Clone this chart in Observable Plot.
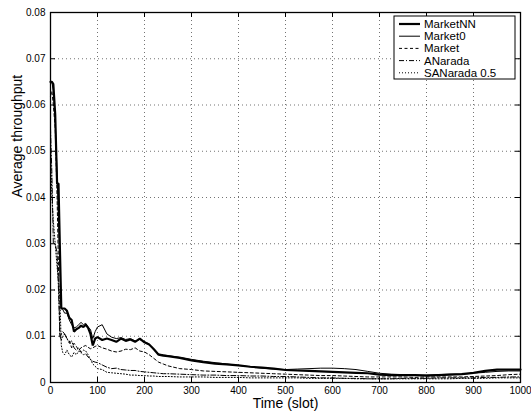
<!DOCTYPE html>
<html><head><meta charset="utf-8">
<script src="https://cdn.jsdelivr.net/npm/d3@7"></script>
<script src="https://cdn.jsdelivr.net/npm/@observablehq/plot@0.6"></script>
<style>body{margin:0;background:#fff;} svg{display:block;}</style>
</head><body><div id="chart"></div>
<script>
const time = [0,3,6,10,14,17,20,23,26,30,35,40,45,50,55,60,65,70,75,80,85,90,95,100,110,120,130,140,150,160,170,180,190,200,210,220,230,240,250,275,300,325,350,375,400,425,450,475,500,525,550,575,600,625,650,675,700,725,750,775,800,825,850,875,900,925,950,975,1000];
const marketNN = [0.065,0.065,0.0645,0.058,0.043,0.043,0.029,0.016,0.016,0.016,0.0155,0.014,0.0135,0.011,0.0115,0.0118,0.0123,0.012,0.0125,0.0118,0.0105,0.008,0.0095,0.0098,0.0092,0.0095,0.0092,0.0088,0.0095,0.009,0.0093,0.0088,0.0095,0.0087,0.0082,0.0072,0.006,0.0058,0.0057,0.0053,0.0048,0.0044,0.0041,0.0039,0.0037,0.0034,0.0032,0.003,0.0027,0.0026,0.0025,0.0024,0.0023,0.0022,0.0021,0.002,0.0017,0.0016,0.0016,0.0016,0.0015,0.0016,0.0017,0.0018,0.0021,0.0025,0.0028,0.0028,0.0028];
const market0 = [0.065,0.065,0.063,0.057,0.045,0.035,0.025,0.016,0.0158,0.015,0.015,0.0135,0.0125,0.0118,0.012,0.0125,0.013,0.0125,0.0128,0.012,0.0115,0.0095,0.011,0.012,0.0125,0.0105,0.0098,0.0095,0.0097,0.0093,0.0095,0.009,0.0093,0.0088,0.0083,0.007,0.0062,0.006,0.0058,0.0055,0.005,0.0046,0.0043,0.004,0.0037,0.0034,0.0031,0.0029,0.0028,0.0029,0.003,0.0031,0.0031,0.003,0.0028,0.0024,0.002,0.0018,0.0017,0.0016,0.0016,0.0017,0.0018,0.0018,0.002,0.0022,0.0024,0.0025,0.0025];
const market = [0.062,0.063,0.06,0.055,0.04,0.025,0.0097,0.0105,0.011,0.0105,0.0095,0.009,0.0075,0.0085,0.0078,0.007,0.0075,0.0078,0.008,0.0076,0.0073,0.0075,0.0078,0.008,0.0075,0.0072,0.0068,0.0066,0.0068,0.0072,0.0071,0.0075,0.0068,0.0066,0.006,0.0052,0.0044,0.004,0.0036,0.003,0.0028,0.0025,0.0024,0.0023,0.0022,0.0021,0.002,0.0019,0.0018,0.0017,0.0016,0.0015,0.0015,0.0014,0.0013,0.0012,0.0012,0.0012,0.0012,0.0011,0.0012,0.0012,0.0012,0.0012,0.0013,0.0014,0.0015,0.0017,0.0018];
const aNarada = [0.055,0.045,0.03,0.03,0.028,0.02,0.01,0.0092,0.0098,0.0105,0.0095,0.0085,0.009,0.0075,0.007,0.0075,0.0065,0.006,0.0062,0.0055,0.005,0.0046,0.0044,0.0043,0.0038,0.0033,0.003,0.0031,0.0028,0.0027,0.0026,0.0026,0.0024,0.0023,0.0022,0.0021,0.002,0.0019,0.0019,0.0018,0.0017,0.0016,0.0016,0.0015,0.0015,0.0014,0.0014,0.0013,0.0013,0.0012,0.0011,0.001,0.001,0.0009,0.0009,0.0008,0.0008,0.0008,0.0009,0.0009,0.0009,0.001,0.001,0.001,0.001,0.0011,0.0011,0.0012,0.0012];
const saNarada = [0.05,0.04,0.035,0.03,0.025,0.022,0.018,0.008,0.0065,0.006,0.007,0.006,0.0055,0.0065,0.006,0.0068,0.0065,0.007,0.0068,0.006,0.005,0.004,0.0035,0.003,0.0028,0.0022,0.0021,0.002,0.0019,0.0018,0.0016,0.0016,0.0015,0.0015,0.0014,0.0014,0.0013,0.0013,0.0013,0.0012,0.0012,0.0012,0.0011,0.0011,0.0011,0.001,0.001,0.001,0.001,0.001,0.0009,0.0009,0.0009,0.0009,0.0008,0.0008,0.0008,0.0008,0.0008,0.0008,0.0008,0.0008,0.0008,0.0009,0.0009,0.0009,0.001,0.001,0.001];
const seriesNames = ["MarketNN","Market0","Market","ANarada","SANarada 0.5"];
const seriesValues = [marketNN, market0, market, aNarada, saNarada];
const xTicks = [0,100,200,300,400,500,600,700,800,900,1000];
const yTicks = [0,0.01,0.02,0.03,0.04,0.05,0.06,0.07,0.08];
const styles = [
  {strokeWidth:2.2, dash:null},
  {strokeWidth:1, dash:null},
  {strokeWidth:1, dash:"3,2.5"},
  {strokeWidth:1, dash:"5,2,1,2"},
  {strokeWidth:1, dash:"1,2"}
];

const W = 531, H = 414, mL = 50, mR = 11, mT = 12, mB = 32;
const pw = W - mL - mR, ph = H - mT - mB;

const lineMarks = seriesValues.map((vals, i) => Plot.line(time.map((t, j) => ({t, v: vals[j]})), {
  x: "t", y: "v", stroke: "black", strokeWidth: styles[i].strokeWidth,
  strokeDasharray: styles[i].dash, strokeLinejoin: "miter"
})).reverse();

const fmtY = d => d === 0 ? "0" : d.toFixed(2);
const fmtX = d => String(d);

const chart = Plot.plot({
  width: W, height: H,
  marginLeft: mL, marginRight: mR, marginTop: mT, marginBottom: mB,
  style: {fontFamily: "'Liberation Sans', Arial, sans-serif", background: "#fff"},
  x: {domain: [0, 1000]},
  y: {domain: [0, 0.08]},
  marks: [
    Plot.gridX(xTicks.slice(1, -1), {stroke: "#000", strokeOpacity: 0.55, strokeDasharray: "1,3"}),
    Plot.gridY(yTicks.slice(1, -1), {stroke: "#000", strokeOpacity: 0.55, strokeDasharray: "1,3"}),
    Plot.tickX(xTicks, {x: d => d, insetTop: ph - 5, stroke: "#000"}),
    Plot.tickX(xTicks, {x: d => d, insetBottom: ph - 5, stroke: "#000"}),
    Plot.tickY(yTicks, {y: d => d, insetRight: pw - 5, stroke: "#000"}),
    Plot.tickY(yTicks, {y: d => d, insetLeft: pw - 5, stroke: "#000"}),
    ...lineMarks,
    Plot.axisX(xTicks, {tickSize: 0, tickPadding: 4, fontSize: 10, label: null, tickFormat: fmtX, fill: "#000"}),
    Plot.axisY(yTicks, {tickSize: 0, tickPadding: 5, fontSize: 10, label: null, tickFormat: fmtY, fill: "#000"}),
    Plot.text(["Time (slot)"], {frameAnchor: "bottom", dy: 25, fontSize: 14, fill: "#000"}),
    Plot.text(["Average throughput"], {frameAnchor: "left", dx: -33, rotate: -90, fontSize: 14, fill: "#000"}),
    Plot.frame({stroke: "#000", strokeWidth: 1.3})
  ]
});

// Legend inside the plot (top-right)
const svg = d3.select(chart);
const lg = svg.append("g").attr("transform", "translate(394,16)").attr("text-anchor", "start");
lg.append("rect").attr("width", 121).attr("height", 63).attr("fill", "#fff").attr("stroke", "#000").attr("stroke-width", 1);
seriesNames.forEach((name, i) => {
  const y = 8 + i * 12.2;
  lg.append("line").attr("x1", 5).attr("x2", 26).attr("y1", y).attr("y2", y)
    .attr("stroke", "#000").attr("stroke-width", styles[i].strokeWidth)
    .attr("stroke-dasharray", styles[i].dash);
  lg.append("text").attr("x", 30).attr("y", y).attr("dy", "0.35em")
    .attr("text-anchor", "start")
    .attr("font-size", 11.5).attr("fill", "#000").text(name);
});

document.getElementById("chart").appendChild(chart);
</script>
</body></html>
